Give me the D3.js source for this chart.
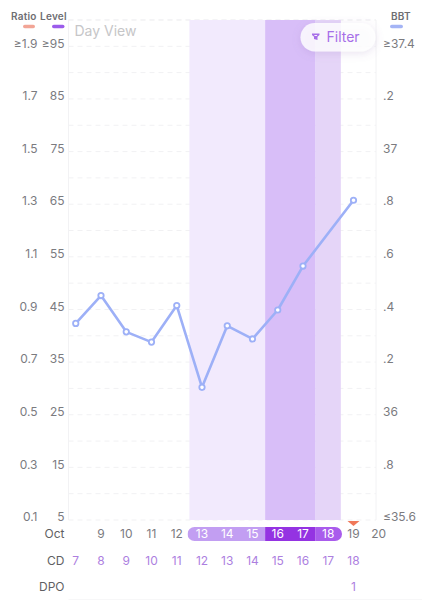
<!DOCTYPE html>
<html><head><meta charset="utf-8">
<script src="https://cdn.jsdelivr.net/npm/d3@7/dist/d3.min.js"></script>
<style>html,body{margin:0;padding:0;background:#fff}svg{display:block;font-family:Inter,"Noto Sans",sans-serif}</style>
</head><body><svg id="c" width="422" height="600"></svg>
<script>
const octDays=[8,9,10,11,12,13,14,15,16,17,18,19,20];
const octLabels=["","9","10","11","12","13","14","15","16","17","18","19","20"];
const cdLabels=["7","8","9","10","11","12","13","14","15","16","17","18",""];
const dpoLabels=["","","","","","","","","","","","1",""];
const bbtDays=[8,9,10,11,12,13,14,15,16,17,19];
const bbtValues=[36.347,36.453,36.315,36.276,36.415,36.104,36.338,36.288,36.398,36.565,36.815];
const ratioTicks=["≥1.9","1.7","1.5","1.3","1.1","0.9","0.7","0.5","0.3","0.1"];
const levelTicks=["≥95","85","75","65","55","45","35","25","15","5"];
const bbtTicks=["≥37.4",".2","37",".8",".6",".4",".2","36",".8","≤35.6"];
const tickValues=[37.4,37.2,37.0,36.8,36.6,36.4,36.2,36.0,35.8,35.6];
const gridValues=d3.range(0,20).map(i=>35.6+i*0.1);
const bands=[{from:13,to:16,fill:"#f1e9fd",pill:"#c29ef2"},{from:16,to:18,fill:"#d6baf8",pill:"#9433e2"},{from:18,to:19,fill:"#e3d2f8",pill:"#a95cec"}];

const svg=d3.select("#c");
const x=d3.scaleLinear().domain([9,19]).range([101,353.5]);
const y=d3.scaleLinear().domain([35.6,37.5]).range([520,20]);
const bw=x(9)-x(8);
const left=68.5,right=376;
const tickColor="#7b7b7f";

svg.append("g").selectAll("line").data(gridValues.concat([37.5])).join("line")
 .attr("x1",left).attr("x2",right).attr("y1",d=>y(d)).attr("y2",d=>y(d))
 .attr("stroke","#f1f1f3").attr("stroke-width",1).attr("stroke-dasharray","5 4");
[left,right].forEach(v=>svg.append("line").attr("x1",v).attr("x2",v).attr("y1",20).attr("y2",520).attr("stroke","#f2f2f4").attr("stroke-width",1));
svg.append("g").selectAll("rect").data(bands).join("rect")
 .attr("x",d=>x(d.from)-bw/2).attr("width",d=>x(d.to)-x(d.from)).attr("y",y(37.5)).attr("height",y(35.6)-y(37.5)).attr("fill",d=>d.fill).attr("fill-opacity",0.94);
svg.append("line").attr("x1",left).attr("x2",422).attr("y1",599.5).attr("y2",599.5).attr("stroke","#f7f7f8");

const line=d3.line().x((d,i)=>x(bbtDays[i])).y(d=>y(d));
svg.append("path").datum(bbtValues).attr("d",line).attr("fill","none").attr("stroke","#9db0f7").attr("stroke-width",2.6).attr("stroke-linejoin","round");
svg.append("g").selectAll("circle").data(bbtValues).join("circle")
 .attr("cx",(d,i)=>x(bbtDays[i])).attr("cy",d=>y(d)).attr("r",2.7).attr("fill","#fff").attr("stroke","#9db0f7").attr("stroke-width",1.8);

function column(vals,xp,anchor){
 svg.append("g").selectAll("text").data(vals).join("text")
  .attr("x",xp).attr("y",(d,i)=>y(tickValues[i])-3).attr("dy","0.35em").attr("text-anchor",anchor)
  .attr("font-size",12).attr("fill",tickColor).text(d=>d);
}
column(ratioTicks,37.5,"end");column(levelTicks,64.5,"end");column(bbtTicks,383,"start");

const head=[["Ratio",11,"#f2a596",23,35],["Level",40,"#9b5ceb",52,64.5],["BBT",391,"#a4b4f5",390,403]];
svg.append("g").selectAll("text").data(head).join("text").attr("x",d=>d[1]).attr("y",20).attr("font-size",10).attr("font-weight",600).attr("letter-spacing",0.25).attr("fill","#6e6e72").text(d=>d[0]);
svg.append("g").selectAll("line").data(head).join("line").attr("x1",d=>d[3]+1.75).attr("x2",d=>d[4]-1.75).attr("y1",26.5).attr("y2",26.5).attr("stroke",d=>d[2]).attr("stroke-width",3.5).attr("stroke-linecap","round");

svg.append("text").attr("x",74.5).attr("y",36).attr("font-size",14).attr("fill","#c6c6c8").text("Day View");

const defs=svg.append("defs");
const f=defs.append("filter").attr("id","sh").attr("x","-30%").attr("y","-50%").attr("width","160%").attr("height","220%");
f.append("feDropShadow").attr("dx",0).attr("dy",2).attr("stdDeviation",4).attr("flood-color","#8a6ab0").attr("flood-opacity",0.22);
defs.append("clipPath").attr("id","pill").append("rect").attr("x",187.5).attr("y",527).attr("width",154.5).attr("height",14).attr("rx",7);

svg.append("rect").attr("x",300.5).attr("y",23).attr("width",75).attr("height",28.5).attr("rx",14.2).attr("fill","#fff").attr("fill-opacity",0.82).attr("filter","url(#sh)");
svg.append("path").attr("d","M312 33.5h7.5v1.6l-2 1.6v3.3l-3.5 -1v-2.3l-2 -1.6z").attr("fill","#a76fe8");
svg.append("path").attr("d","M314.4 35.5h2.7").attr("stroke","#fff").attr("stroke-width",0.9);
svg.append("text").attr("x",326.5).attr("y",42).attr("font-size",14).attr("fill","#a76fe8").text("Filter");

svg.append("g").attr("clip-path","url(#pill)").selectAll("rect").data(bands).join("rect")
 .attr("x",(d,i)=>i==0?187.5:x(d.from)-bw/2)
 .attr("width",(d,i)=>i==0?x(d.to)-bw/2-187.5:i==2?342-(x(d.from)-bw/2):x(d.to)-x(d.from))
 .attr("y",527).attr("height",14).attr("fill",d=>d.pill);

svg.append("path").attr("d",d3.line()([[x(19)-6,521],[x(19)+6,521],[x(19),526]])+"Z").attr("fill","#f0785a");

const rowLab=[["Oct",534],["CD",560.5],["DPO",587]];
svg.append("g").selectAll("text").data(rowLab).join("text").attr("x",64.5).attr("y",d=>d[1]).attr("dy","0.35em").attr("text-anchor","end").attr("font-size",12).attr("fill","#5f5f63").text(d=>d[0]);

function row(labels,yp,color){
 svg.append("g").selectAll("text").data(labels).join("text").attr("x",(d,i)=>x(octDays[i])).attr("y",yp).attr("dy","0.35em").attr("text-anchor","middle").attr("font-size",12)
  .attr("fill",typeof color==="function"?(d,i)=>color(octDays[i]):color).text(d=>d);
}
row(octLabels,534,d=>(d>=13&&d<=18)?"#fff":tickColor);
row(cdLabels,560.5,"#ad7fdf");
row(dpoLabels,587,"#ad7fdf");
</script></body></html>
